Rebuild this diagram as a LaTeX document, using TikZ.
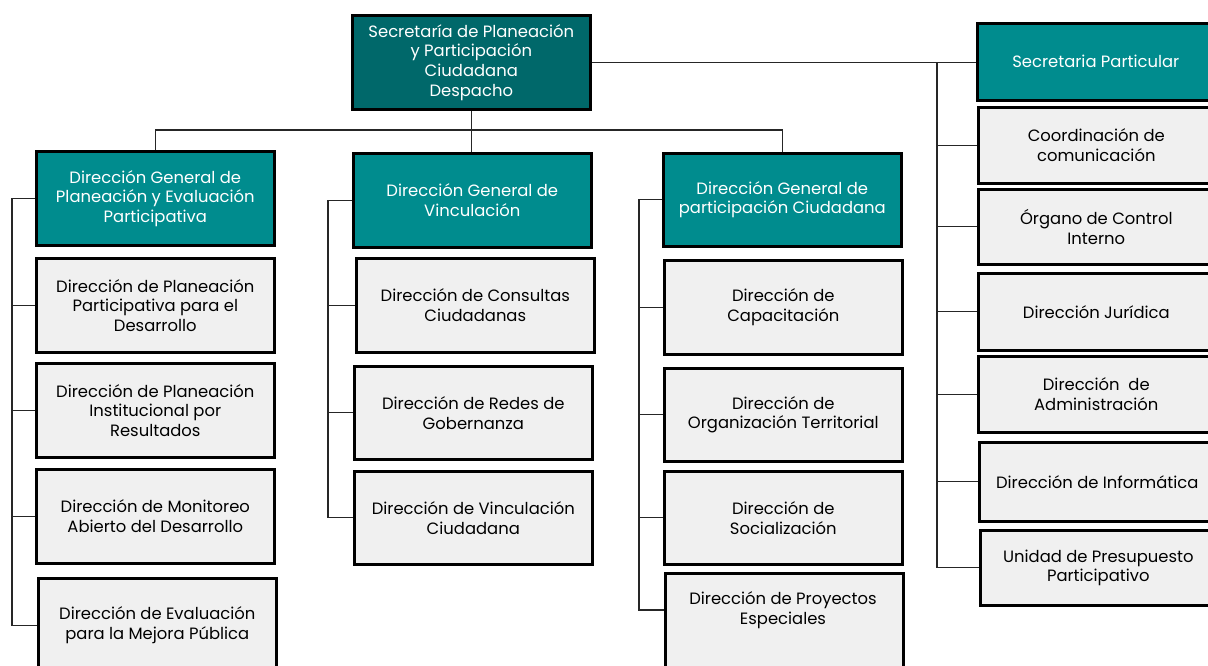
\documentclass[tikz,border=0pt]{standalone}
\usepackage{fontspec}
\setmainfont{Poppins}
\definecolor{darkteal}{HTML}{00686A}
\definecolor{teal1}{HTML}{008C8E}
\definecolor{lightbox}{HTML}{F0F0F0}
\begin{document}
\begin{tikzpicture}[x=1pt,y=-1pt,
  base/.style={draw=black, line width=2.6pt, anchor=north west, inner sep=0pt,
    align=center, font=\fontsize{16.4}{19.6}\selectfont},
  topbox/.style={base, fill=darkteal, text=white},
  headbox/.style={base, fill=teal1, text=white},
  unitbox/.style={base, fill=lightbox, text=black},
  link/.style={draw=black!85, line width=1.3pt},
  txt/.style={align=center, inner sep=0pt, font=\fontsize{16.4}{19.6}\selectfont}]
\useasboundingbox (0,0) rectangle (1208,665);
% top
\node[topbox, minimum width=238pt, minimum height=94pt] (top) at (351,14)
  {Secretaría de Planeación\\y Participación\\Ciudadana\\Despacho};
\node[headbox, minimum width=237pt, minimum height=77pt] (sp) at (976,22)
  {Secretaria Particular};
% column 1
\node[headbox, minimum width=238pt, minimum height=94pt] (h1) at (35,150)
  {Dirección General de\\Planeación y Evaluación\\Participativa};
\node[unitbox, minimum width=238pt, minimum height=94pt] (c11) at (35,257)
  {Dirección de Planeación\\Participativa para el\\Desarrollo};
\node[unitbox, minimum width=238pt, minimum height=94pt] (c12) at (35,362)
  {Dirección de Planeación\\Institucional por\\Resultados};
\node[unitbox, minimum width=238pt, minimum height=94pt] (c13) at (35,468)
  {Dirección de Monitoreo\\Abierto del Desarrollo};
\node[unitbox, minimum width=238pt, minimum height=94pt] (c14) at (37,577)
  {Dirección de Evaluación\\para la Mejora Pública};
% column 2
\node[headbox, minimum width=238pt, minimum height=94pt] (h2) at (352,152)
  {Dirección General de\\Vinculación};
\node[unitbox, minimum width=238pt, minimum height=94pt] (c21) at (355,257)
  {Dirección de Consultas\\Ciudadanas};
\node[unitbox, minimum width=238pt, minimum height=93pt] (c22) at (353,365)
  {Dirección de Redes de\\Gobernanza};
\node[unitbox, minimum width=238pt, minimum height=93pt] (c23) at (353,470)
  {Dirección de Vinculación\\Ciudadana};
% column 3
\node[headbox, minimum width=238pt, minimum height=93pt] (h3) at (662,152)
  {Dirección General de\\participación Ciudadana};
\node[unitbox, minimum width=238pt, minimum height=94pt] (c31) at (663,259)
  {Dirección de\\Capacitación};
\node[unitbox, minimum width=238pt, minimum height=93pt] (c32) at (663,367)
  {Dirección de\\Organización Territorial};
\node[unitbox, minimum width=238pt, minimum height=93pt] (c33) at (663,470)
  {Dirección de\\Socialización};
\node[unitbox, minimum width=238pt, minimum height=110pt] (c34) at (664,572) {};
\node[txt] (c34t) at (783,610) {Dirección de Proyectos\\Especiales};
% right column
\node[unitbox, minimum width=236pt, minimum height=76pt] (r1) at (977,106)
  {Coordinación de\\comunicación};
\node[unitbox, minimum width=236pt, minimum height=75pt] (r2) at (977,188)
  {Órgano de Control\\Interno};
\node[unitbox, minimum width=236pt, minimum height=77pt] (r3) at (977,272)
  {Dirección Jurídica};
\node[unitbox, minimum width=236pt, minimum height=76pt] (r4) at (977,355)
  {Dirección\ \ de\\Administración};
\node[unitbox, minimum width=236pt, minimum height=79pt] (r5) at (978,441)
  {Dirección de Informática};
\node[unitbox, minimum width=236pt, minimum height=75pt] (r6) at (979,529)
  {Unidad de Presupuesto\\Participativo};
% connectors
\coordinate (bus) at (470,130);
\coordinate (v1) at (12,0);
\coordinate (v2) at (328,0);
\coordinate (v3) at (639,0);
\coordinate (vr) at (937,0);
\draw[link] (top.south) -- (top.south |- h2.north);
\draw[link] (h1.north) -- (h1.north |- bus) -- (h3.north |- bus) -- (h3.north);
\draw[link] (top.east) -- (top.east -| sp.west);
% right column
\draw[link] (vr |- top.east) -- (vr |- r6.west) -- (r6.west);
\foreach \n in {r1,r2,r3,r4,r5} \draw[link] (vr |- \n.west) -- (\n.west);
% column 1
\draw[link] (h1.west) -- (v1 |- h1.west) -- (v1 |- c14.west) -- (c14.west);
\foreach \n in {c11,c12,c13} \draw[link] (v1 |- \n.west) -- (\n.west);
% column 2
\draw[link] (h2.west) -- (v2 |- h2.west) -- (v2 |- c23.west) -- (c23.west);
\foreach \n in {c21,c22} \draw[link] (v2 |- \n.west) -- (\n.west);
% column 3
\draw[link] (h3.west) -- (v3 |- h3.west) -- (v3 |- c34t) -- (c34t -| c34.west);
\foreach \n in {c31,c32,c33} \draw[link] (v3 |- \n.west) -- (\n.west);
\end{tikzpicture}
\end{document}
